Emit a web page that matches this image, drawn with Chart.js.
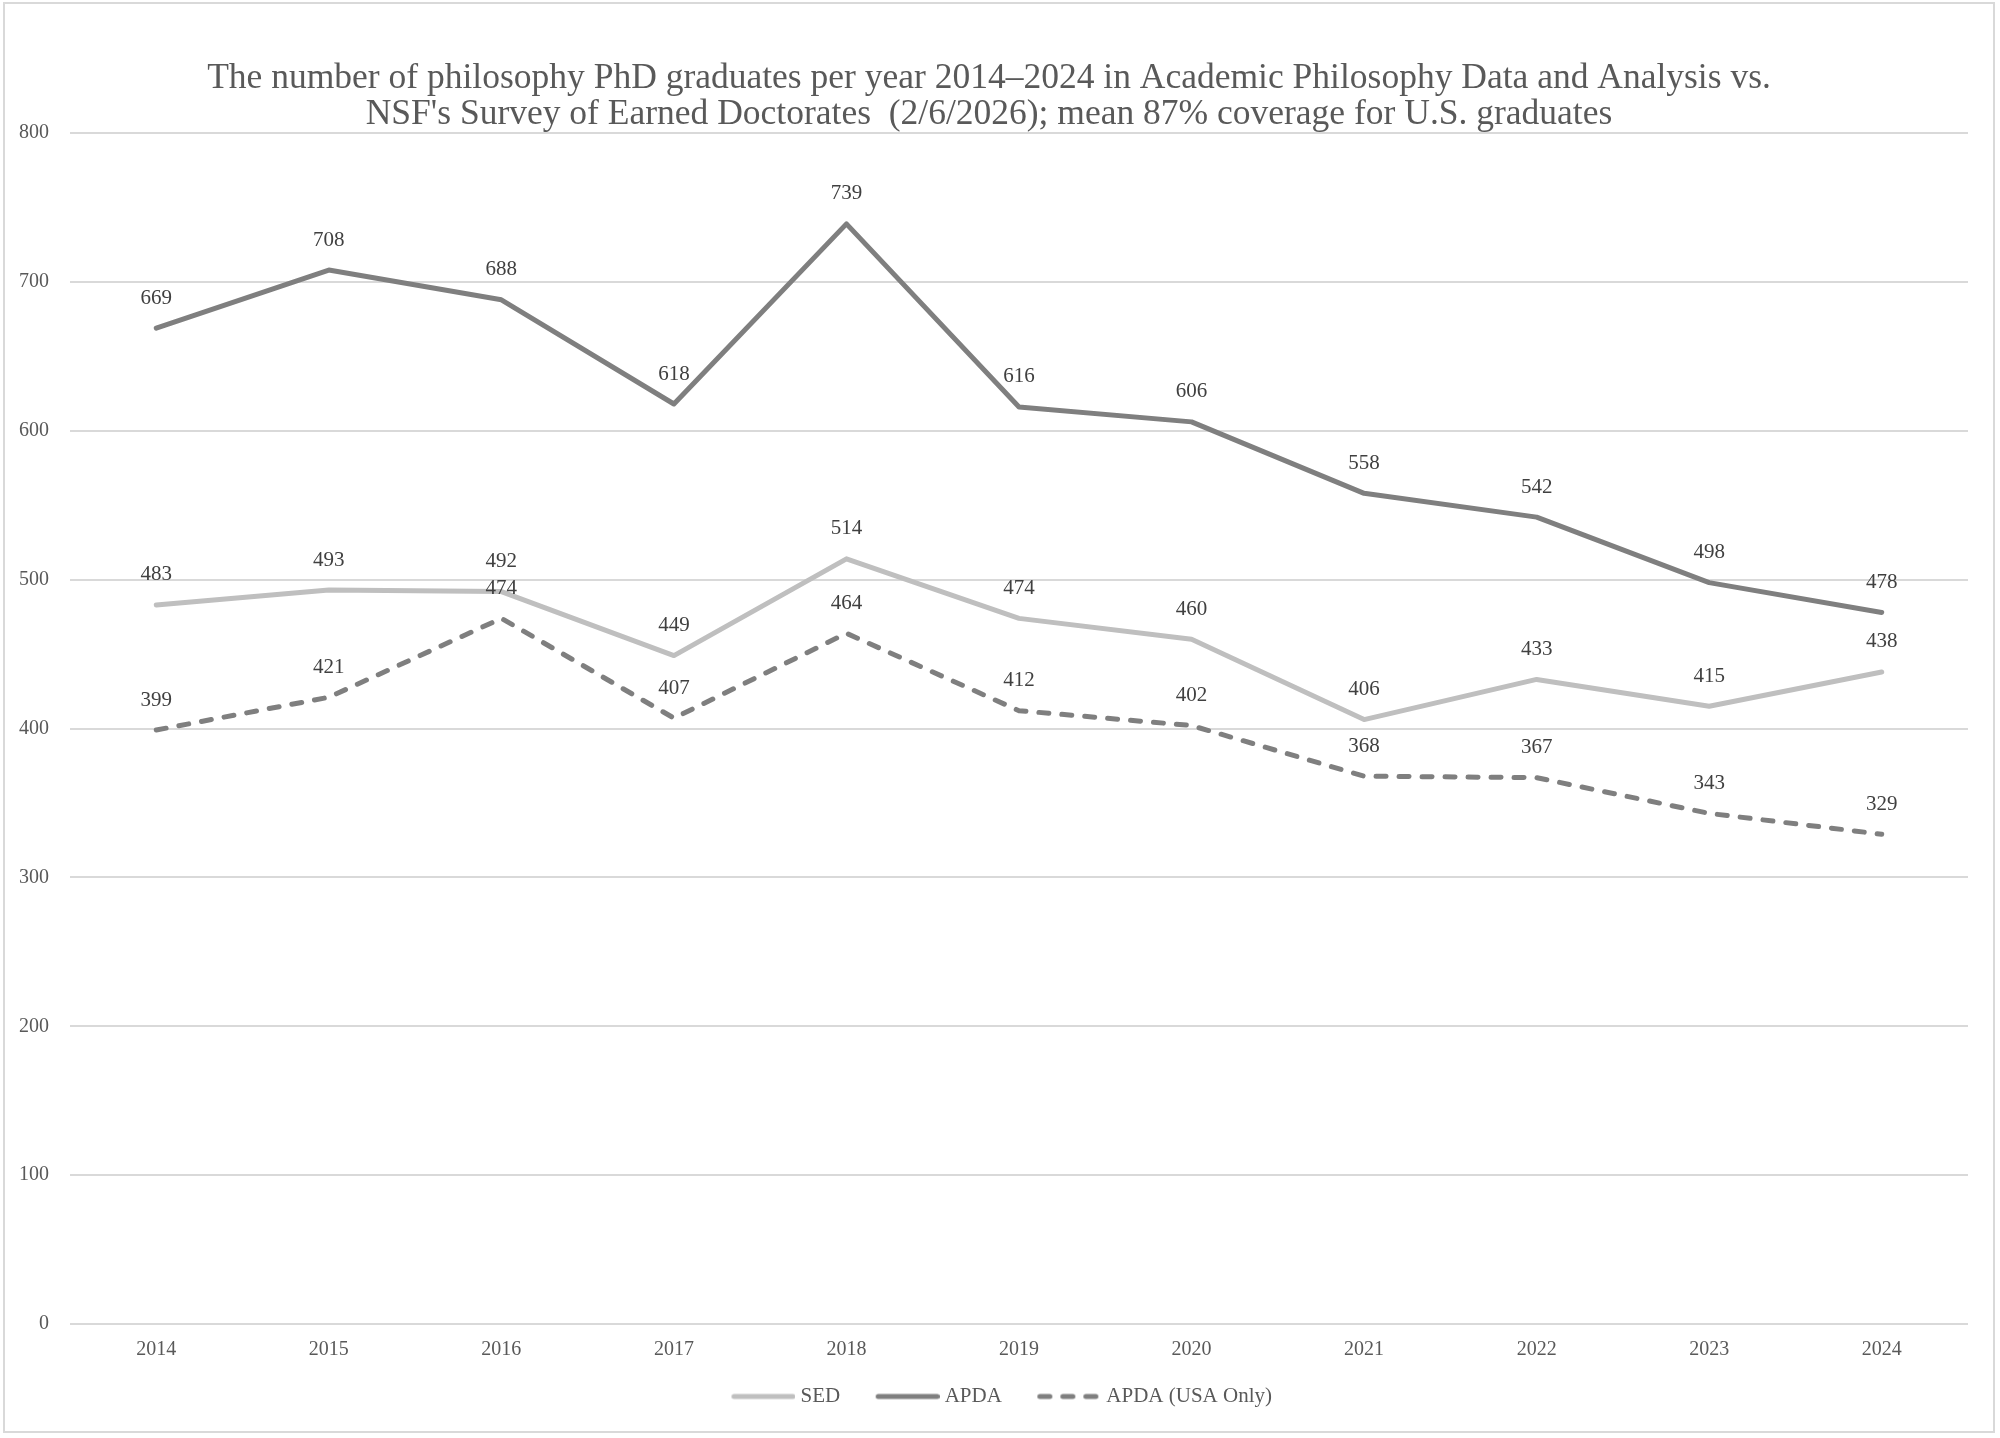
<!DOCTYPE html>
<html>
<head>
<meta charset="utf-8">
<script src="https://cdn.jsdelivr.net/npm/chart.js@4"></script>
<style>
  body { margin: 0; background: #fff; }
  #wrap { position: absolute; left: 0; top: 0; width: 2000px; height: 1438px; }
  #frame { position: absolute; left: 3px; top: 2px; width: 1988px; height: 1427px; border: 2px solid #d9d9d9; pointer-events: none; }
</style>
</head>
<body>
<div id="wrap"><canvas id="chart" width="2000" height="1438"></canvas></div>
<div id="frame"></div>
<script>
const years = ['2014','2015','2016','2017','2018','2019','2020','2021','2022','2023','2024'];
const sed = [483, 493, 492, 449, 514, 474, 460, 406, 433, 415, 438];
const apda = [669, 708, 688, 618, 739, 616, 606, 558, 542, 498, 478];
const apdaUsa = [399, 421, 474, 407, 464, 412, 402, 368, 367, 343, 329];
const titleLines = [
  'The number of philosophy PhD graduates per year 2014\u20132024 in Academic Philosophy Data and Analysis vs.',
  "NSF's Survey of Earned Doctorates  (2/6/2026); mean 87% coverage for U.S. graduates"
];

const FONT = "'Liberation Serif', serif";

// draws the value above every point (no datalabels plugin offline)
const valueLabels = {
  id: 'valueLabels',
  afterDatasetsDraw(chart) {
    const ctx = chart.ctx;
    ctx.save();
    ctx.font = '21px ' + FONT;
    ctx.fillStyle = '#404040';
    ctx.textAlign = 'center';
    ctx.textBaseline = 'middle';
    chart.data.datasets.forEach((ds, i) => {
      const meta = chart.getDatasetMeta(i);
      meta.data.forEach((pt, j) => {
        ctx.fillText(ds.data[j], pt.x, pt.y - 30);
      });
    });
    ctx.restore();
  }
};

// little line swatch for the legend, line sits at the right side of the image
function swatch(color, dash) {
  const c = document.createElement('canvas');
  c.width = 95;
  c.height = 10;
  const g = c.getContext('2d');
  g.strokeStyle = color;
  g.lineWidth = 5;
  g.lineCap = 'round';
  g.setLineDash(dash);
  g.beginPath();
  g.moveTo(33.5, 5);
  g.lineTo(92.5, 5);
  g.stroke();
  return c;
}

const ctx = document.getElementById('chart').getContext('2d');
new Chart(ctx, {
  type: 'line',
  data: {
    labels: years,
    datasets: [
      {
        label: 'SED',
        data: sed,
        borderColor: '#bfbfbf',
        backgroundColor: '#bfbfbf',
        borderWidth: 5,
        borderCapStyle: 'round',
        borderJoinStyle: 'round',
        pointRadius: 0
      },
      {
        label: 'APDA',
        data: apda,
        borderColor: '#7f7f7f',
        backgroundColor: '#7f7f7f',
        borderWidth: 5,
        borderCapStyle: 'round',
        borderJoinStyle: 'round',
        pointRadius: 0
      },
      {
        label: 'APDA (USA Only)',
        data: apdaUsa,
        borderColor: '#7f7f7f',
        backgroundColor: '#7f7f7f',
        borderWidth: 5,
        borderDash: [10, 13],
        borderCapStyle: 'round',
        borderJoinStyle: 'round',
        pointRadius: 0
      }
    ]
  },
  options: {
    responsive: false,
    animation: false,
    layout: { padding: { left: 10, right: 32, top: 0, bottom: 21 } },
    plugins: {
      title: {
        display: true,
        text: titleLines,
        color: '#595959',
        font: { family: FONT, size: 35.5, weight: 'normal', lineHeight: 1.015 },
        padding: { top: 61, bottom: 0 }
      },
      legend: {
        position: 'bottom',
        labels: {
          usePointStyle: true,
          pointStyleWidth: 84,
          boxHeight: 19,
          padding: 10,
          color: '#595959',
          font: { family: FONT, size: 21 },
          generateLabels: (chart) => {
            const items = Chart.defaults.plugins.legend.labels.generateLabels(chart);
            items.forEach((it, i) => {
              const ds = chart.data.datasets[i];
              it.pointStyle = swatch(ds.borderColor, ds.borderDash || []);
            });
            return items;
          }
        }
      },
      tooltip: { enabled: false }
    },
    scales: {
      x: {
        offset: true,
        grid: { display: false, drawTicks: false },
        border: { display: false },
        ticks: { color: '#595959', font: { family: FONT, size: 20 }, padding: 14 }
      },
      y: {
        min: 0,
        max: 800,
        grid: { color: '#d9d9d9', lineWidth: 2, drawTicks: false },
        border: { display: false },
        ticks: { stepSize: 100, color: '#595959', font: { family: FONT, size: 20 }, padding: 21 },
        afterFit: (axis) => { axis.width = 60; }
      }
    }
  },
  plugins: [valueLabels]
});
</script>
</body>
</html>
